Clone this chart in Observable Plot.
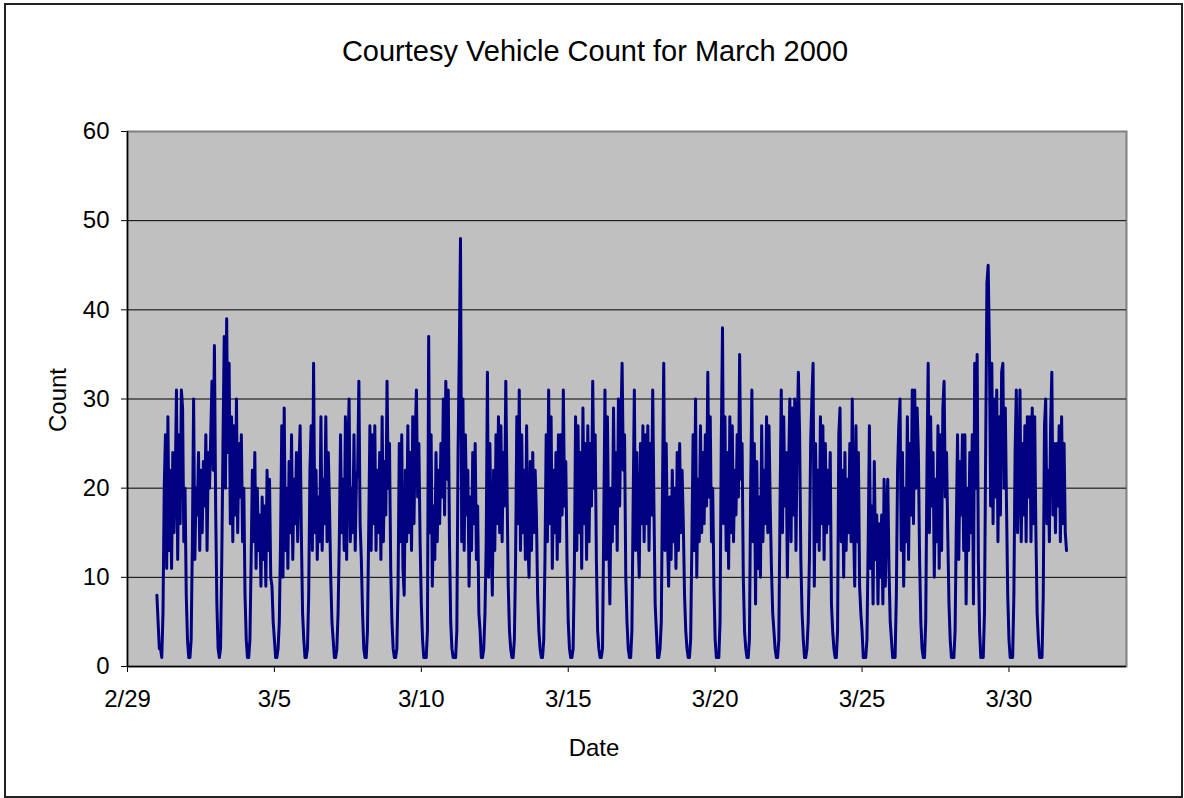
<!DOCTYPE html>
<html>
<head>
<meta charset="utf-8">
<script src="https://cdn.jsdelivr.net/npm/d3@7"></script>
<script src="https://cdn.jsdelivr.net/npm/@observablehq/plot@0.6"></script>
<style>
  body { margin: 0; background: #fff; }
  #chart { position: relative; width: 1184px; height: 798px; font-family: "Liberation Sans", Arial, sans-serif; color: #000; overflow: hidden; }
  #chart svg { position: absolute; left: 0; top: 0; }
  .frame-border { position: absolute; left: 4px; top: 3px; width: 1179px; height: 795px; border: 2px solid #222; box-sizing: border-box; }
  .txt { position: absolute; text-align: center; white-space: nowrap; }
  .title { left: 0; width: 1190px; top: 31px; height: 40px; line-height: 40px; font-size: 29px; }
  .ylabel { left: 8px; top: 380px; width: 100px; height: 40px; line-height: 40px; font-size: 24px; transform: rotate(-90deg); }
  .xlabel { left: 494px; top: 728px; width: 200px; height: 40px; line-height: 40px; font-size: 24px; }
</style>
</head>
<body>
<div id="chart">
  <div class="frame-border"></div>
  <div class="txt title">Courtesy Vehicle Count for March 2000</div>
  <div class="txt ylabel">Count</div>
  <div class="txt xlabel">Date</div>
</div>
<script>
// Hourly courtesy-vehicle counts, one array of 24 readings (00:00 … 23:00) per day of March 2000
const mar01 = [8,5,2,2,1,6,20,26,11,28,13,22,11,24,15,21,31,12,26,16,31,29,14,20];
const mar02 = [8,3,1,1,3,14,30,12,20,17,24,13,22,15,23,18,26,13,24,20,26,32,22,36];
const mar03 = [18,7,2,1,2,12,25,37,20,39,24,34,16,28,14,27,17,30,15,25,19,26,14,20];
const mar04 = [8,3,1,1,3,12,22,14,24,11,20,13,17,9,19,12,18,9,22,13,21,10,9,5];
const mar05 = [3,1,1,2,5,14,27,10,29,13,20,11,23,15,26,12,21,16,24,14,22,27,15,6];
const mar06 = [3,1,1,2,8,22,27,13,34,15,22,12,19,14,28,13,21,16,28,14,24,18,10,5];
const mar07 = [3,1,1,2,6,14,26,15,21,13,28,12,24,30,14,20,15,26,13,21,22,32,16,12];
const mar08 = [6,2,1,1,4,15,27,13,26,16,27,13,22,15,24,12,28,14,23,17,32,20,25,11];
const mar09 = [5,2,1,1,2,9,25,14,26,11,8,22,14,27,15,24,13,28,16,26,31,19,25,14];
const mar10 = [7,3,1,1,1,4,37,15,26,9,18,12,24,14,22,16,25,19,30,17,32,21,31,14];
const mar11 = [5,2,1,1,1,4,24,35,48,14,30,13,26,17,22,9,19,13,24,16,25,12,18,6];
const mar12 = [4,1,1,2,6,14,33,10,25,15,8,22,13,26,16,28,15,27,14,24,18,32,20,9];
const mar13 = [4,2,1,1,3,12,28,16,31,13,26,15,22,12,27,14,10,23,13,24,15,22,17,8];
const mar14 = [4,2,1,1,3,12,26,14,31,16,28,11,22,15,24,12,26,14,26,17,31,18,23,12];
const mar15 = [5,2,1,1,2,11,28,13,27,15,24,11,29,16,25,12,27,14,25,18,32,20,26,12];
const mar16 = [4,2,1,1,2,16,31,12,28,15,7,20,14,29,16,24,13,30,18,27,34,22,26,10];
const mar17 = [5,2,1,1,4,18,31,13,24,15,10,25,16,27,14,26,16,27,13,25,17,31,18,7];
const mar18 = [4,1,1,2,5,20,34,13,25,15,9,19,12,22,14,20,11,24,13,25,15,22,16,8];
const mar19 = [4,2,1,1,3,14,26,13,30,10,21,14,27,15,24,16,26,18,33,19,28,14,20,9];
const mar20 = [3,1,1,1,5,25,38,16,28,13,24,11,28,15,27,14,22,17,26,19,35,21,25,10];
const mar21 = [4,2,1,1,3,20,31,14,25,7,23,11,19,10,27,14,22,16,28,15,27,18,11,6];
const mar22 = [4,2,1,1,3,18,31,15,28,18,24,10,22,30,14,29,17,30,13,26,33,26,12,6];
const mar23 = [3,1,1,2,5,12,25,30,34,9,25,14,22,13,28,16,27,12,25,15,22,16,24,7];
const mar24 = [4,2,1,1,4,26,29,14,22,10,24,13,21,15,25,14,30,16,9,27,14,24,9,6];
const mar25 = [4,1,1,1,3,14,27,11,18,7,23,12,17,7,16,10,17,7,21,9,17,21,11,5];
const mar26 = [3,1,1,1,8,22,27,30,13,24,9,20,14,28,12,25,17,31,16,31,20,29,24,12];
const mar27 = [5,2,1,1,5,22,34,15,28,18,24,10,21,14,27,11,26,13,29,32,19,24,15,7];
const mar28 = [3,1,1,1,4,16,26,12,23,17,26,13,26,7,20,13,24,15,26,7,34,20,35,12];
const mar29 = [4,1,1,1,6,25,43,45,36,18,34,16,30,19,31,14,28,17,33,34,20,29,18,8];
const mar30 = [3,1,1,1,8,24,31,15,21,31,14,25,17,27,14,28,19,28,14,29,16,28,15,6];
const mar31 = [3,1,1,1,8,27,30,16,22,14,27,33,17,25,15,25,18,27,14,28,16,25,15,13];

const days = [mar01, mar02, mar03, mar04, mar05, mar06, mar07, mar08, mar09, mar10,
              mar11, mar12, mar13, mar14, mar15, mar16, mar17, mar18, mar19, mar20,
              mar21, mar22, mar23, mar24, mar25, mar26, mar27, mar28, mar29, mar30, mar31];

// Axis settings
const firstDay = "2000-03-01";
const xDomain = ["2000-02-29", "2000-04-03"];
const xTickDates = ["2000-02-29", "2000-03-05", "2000-03-10", "2000-03-15", "2000-03-20", "2000-03-25", "2000-03-30"];
const xTickLabels = ["2/29", "3/5", "3/10", "3/15", "3/20", "3/25", "3/30"];
const yTicks = [0, 10, 20, 30, 40, 50, 60];
const gridLines = [10, 20, 30, 40, 50];

const HOUR = 3600 * 1000;
const start = new Date(firstDay + "T00:00:00Z").getTime();
const readings = days.flatMap((values, d) =>
  values.map((count, h) => ({ time: new Date(start + (d * 24 + h) * HOUR), count }))
);

const toDate = (s) => new Date(s + "T00:00:00Z");
const tickDates = xTickDates.map(toDate);
const labelFor = (d) => xTickLabels[tickDates.findIndex((t) => +t === +d)] ?? "";

const chart = Plot.plot({
  width: 1184,
  height: 798,
  marginLeft: 127,
  marginRight: 58,
  marginTop: 131,
  marginBottom: 132,
  style: { fontFamily: '"Liberation Sans", Arial, sans-serif', fontSize: "24px", color: "#000", background: "transparent", overflow: "visible" },
  x: { type: "utc", domain: xDomain.map(toDate), ticks: tickDates, tickFormat: labelFor, tickSize: 6, tickPadding: 17, label: null },
  y: { domain: [0, 60], ticks: yTicks, tickSize: 6, tickPadding: 12, label: null },
  marks: [
    Plot.frame({ fill: "#c0c0c0", stroke: "#808080", strokeWidth: 2 }),
    Plot.ruleY(gridLines, { stroke: "#000", strokeWidth: 1 }),
    Plot.lineY(readings, { x: "time", y: "count", stroke: "#000080", strokeWidth: 3, strokeLinejoin: "round" }),
    Plot.ruleY([0], { stroke: "#000", strokeWidth: 1.5 }),
    Plot.ruleX([toDate(xDomain[0])], { stroke: "#000", strokeWidth: 1.5 })
  ]
});

document.getElementById("chart").prepend(chart);
</script>
</body>
</html>
